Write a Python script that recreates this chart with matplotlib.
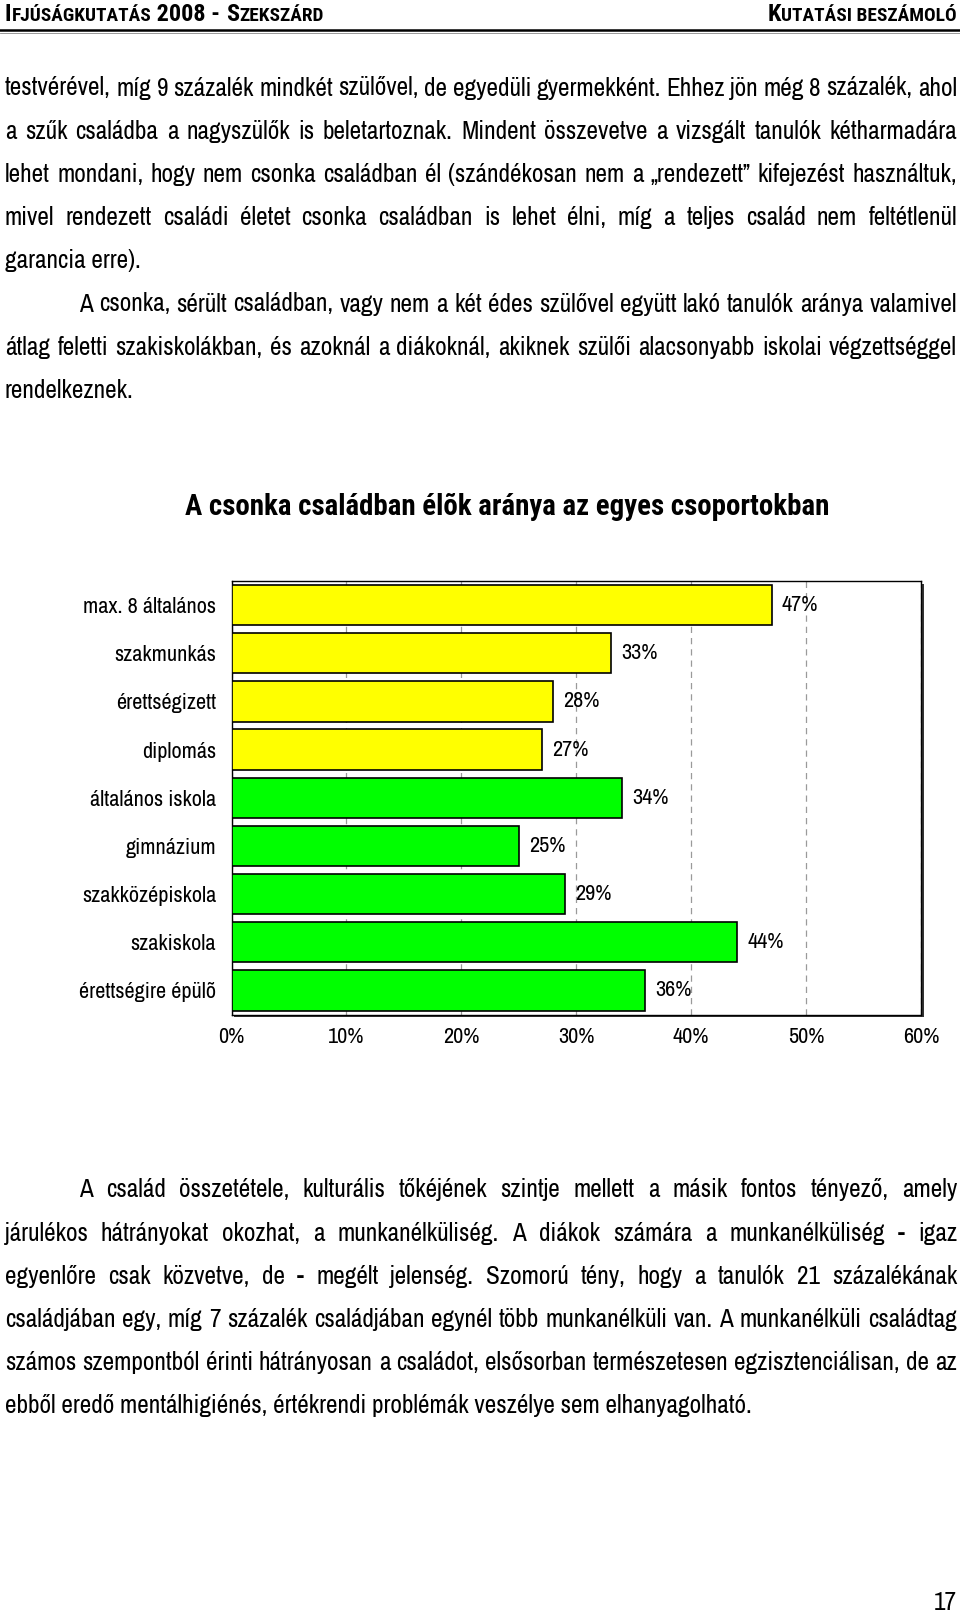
import numpy as np
import matplotlib.pyplot as plt
from matplotlib import font_manager
from matplotlib.patches import Rectangle

# chart data
categories = ["max. 8 általános", "szakmunkás", "érettségizett", "diplomás",
              "általános iskola", "gimnázium", "szakközépiskola", "szakiskola",
              "érettségire épülõ"]
values = [47, 33, 28, 27, 34, 25, 29, 44, 36]
bar_colors = ["#ffff00"] * 4 + ["#00ff00"] * 5
xticks = [0, 10, 20, 30, 40, 50, 60]
title = "A csonka családban élõk aránya az egyes csoportokban"

# page text, line by line as in the document
para1 = [
    "testvérével, míg 9 százalék mindkét szülővel, de egyedüli gyermekként. Ehhez jön még 8 százalék, ahol",
    "a szűk családba a nagyszülők is beletartoznak. Mindent összevetve a vizsgált tanulók kétharmadára",
    "lehet mondani, hogy nem csonka családban él (szándékosan nem a „rendezett” kifejezést használtuk,",
    "mivel rendezett családi életet csonka családban is lehet élni, míg a teljes család nem feltétlenül",
    "garancia erre).",
]
para2 = [
    "A csonka, sérült családban, vagy nem a két édes szülővel együtt lakó tanulók aránya valamivel",
    "átlag feletti szakiskolákban, és azoknál a diákoknál, akiknek szülői alacsonyabb iskolai végzettséggel",
    "rendelkeznek.",
]
para3 = [
    "A család összetétele, kulturális tőkéjének szintje mellett a másik fontos tényező, amely",
    "járulékos hátrányokat okozhat, a munkanélküliség. A diákok számára a munkanélküliség - igaz",
    "egyenlőre csak közvetve, de - megélt jelenség. Szomorú tény, hogy a tanulók 21 százalékának",
    "családjában egy, míg 7 százalék családjában egynél több munkanélküli van. A munkanélküli családtag",
    "számos szempontból érinti hátrányosan a családot, elsősorban természetesen egzisztenciálisan, de az",
    "ebből eredő mentálhigiénés, értékrendi problémák veszélye sem elhanyagolható.",
]


def has_font(name, bold=False):
    for f in font_manager.fontManager.ttflist:
        if f.name == name:
            w = f.weight if isinstance(f.weight, int) else font_manager.weight_dict.get(f.weight, 400)
            if not bold or w >= 600:
                return True
    return False


narrow = ["Liberation Sans Narrow", "Arial Narrow", "Archivo Narrow", "Roboto Condensed",
          "PT Sans Narrow", "Asap Condensed", "Barlow Semi Condensed", "Liberation Sans"]
REG = [next(n for n in narrow if has_font(n)), "DejaVu Sans"]
BOLD = [next(n for n in narrow if has_font(n, bold=True)), "DejaVu Sans"]

W, H = 960, 1613
fig = plt.figure(figsize=(W / 100, H / 100), dpi=100)
bg = fig.add_axes([0, 0, 1, 1])
bg.set_xlim(0, W)
bg.set_ylim(H, 0)
bg.axis("off")
r = fig.canvas.get_renderer()


def text_w(s, size, family=REG, weight="normal"):
    t = bg.text(0, 0, s, fontsize=size, family=family, weight=weight)
    w = t.get_window_extent(renderer=r).width
    t.remove()
    return w


def fit(s, target, family=REG, weight="normal", base=18):
    return base * target / text_w(s, base, family, weight)


def words_w(s, size):
    return sum(text_w(w, size) for w in s.split(" "))


# body size: first line of the page is set with about 5.5 px between words
first = para1[0]
body = 18 * (952 - 5.5 * (len(first.split(" ")) - 1)) / words_w(first, 18)
for lines, indent in [(para1, False), (para2, True), (para3, True)]:
    for k, s in enumerate(lines[:-1]):
        n = len(s.split(" "))
        avail = 957 - (79 if (k == 0 and indent) else 5) - 3.5 * (n - 1)
        need = words_w(s, body)
        if need > avail:
            body *= avail / need


def put_line(s, y, x0, x1, justify):
    if not justify:
        bg.text(x0, y, s, fontsize=body, family=REG, va="baseline")
        return
    words = s.split(" ")
    ts = [bg.text(x0, y, w, fontsize=body, family=REG, va="baseline") for w in words]
    ws = [t.get_window_extent(renderer=r).width for t in ts]
    gap = (x1 - x0 - sum(ws)) / (len(ws) - 1)
    x = x0
    for t, w in zip(ts, ws):
        t.set_x(x)
        x += w + gap


def put_para(lines, y0, indent):
    for k, s in enumerate(lines):
        x0 = 79 if (k == 0 and indent) else 5
        put_line(s, y0 + 43.2 * k + 8, x0, 957, k < len(lines) - 1)


put_para(para1, 87.5, False)
put_para(para2, 303.5, True)
put_para(para3, 1189.4, True)

# header in small caps
left_head = [("I", 15), ("FJÚSÁGKUTATÁS", 12), (" 2008 - ", 15), ("S", 15), ("ZEKSZÁRD", 12)]
right_head = [("K", 15), ("UTATÁSI BESZÁMOLÓ", 12)]
k_head = 318 / sum(text_w(s, sz, BOLD, "bold") for s, sz in left_head)


def put_pieces(pieces, x, y, right=False):
    ws = [text_w(s, sz * k_head, BOLD, "bold") for s, sz in pieces]
    if right:
        x -= sum(ws)
    for (s, sz), w in zip(pieces, ws):
        bg.text(x, y, s, fontsize=sz * k_head, family=BOLD, weight="bold", va="baseline")
        x += w


put_pieces(left_head, 5, 21)
put_pieces(right_head, 957, 21, right=True)
bg.plot([0, W], [29.5, 29.5], color="black", lw=1.8)
bg.plot([0, W], [32.5, 32.5], color="#888888", lw=0.6)

bg.text(507, 507, title, fontsize=fit(title, 644, BOLD, "bold", 20), family=BOLD,
        weight="bold", ha="center", va="center")
bg.text(957, 1610, "17", fontsize=body, family=REG, ha="right", va="baseline")

# chart
chart = fit("max. 8 általános", 133, base=16)
L, R, T, B = 231.5, 921, 581, 1014.5
bg.add_patch(Rectangle((L + 2.5, T + 2.5), R - L, B - T, facecolor="#333333",
                       edgecolor="none", zorder=0))
ax = fig.add_axes([L / W, 1 - B / H, (R - L) / W, (B - T) / H])
y = np.arange(len(categories))
ax.barh(y, values, height=0.84, color=bar_colors, edgecolor="black", linewidth=1.2, zorder=3)
for i, v in enumerate(values):
    ax.text(v + 0.9, i, f"{v}%", fontsize=chart, family=REG, va="center", ha="left")
ax.set_xlim(0, 60)
ax.set_ylim(len(categories) - 0.5, -0.5)
ax.set_xticks(xticks, [f"{v}%" for v in xticks], fontsize=chart, family=REG)
ax.set_yticks(y, categories, fontsize=chart, family=REG)
ax.tick_params(axis="y", length=0, pad=11)
ax.tick_params(axis="x", length=0, pad=9)
ax.xaxis.grid(True, color="#9a9a9a", lw=0.9, ls=(0, (5, 4)))
ax.set_axisbelow(True)
for sp in ax.spines.values():
    sp.set_linewidth(1.0)
    sp.set_color("black")

fig.savefig("out.png", dpi=100)
